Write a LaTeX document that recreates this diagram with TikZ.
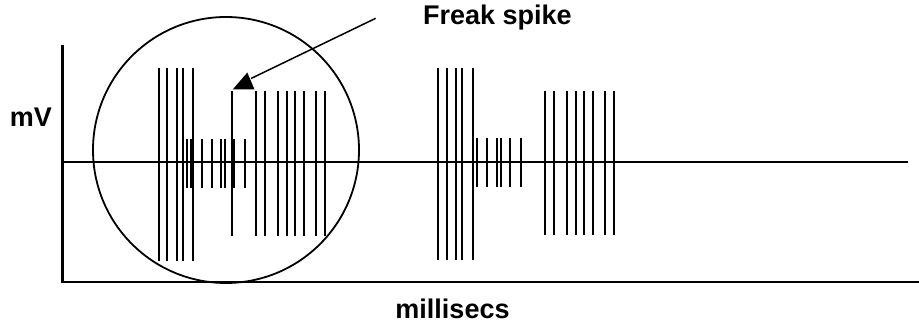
\documentclass[tikz,border=0pt]{standalone}
\usepackage{fontspec}
\setmainfont{Liberation Sans}
\usetikzlibrary{positioning}

\tikzset{
  spike/.style={line width=2.2pt},
  axisline/.style={line width=2.4pt},
  tag/.style={font=\fontsize{27}{30}\selectfont\bfseries, inner sep=0pt}
}

\begin{document}
\begin{tikzpicture}[x=1pt,y=-1pt]
  \useasboundingbox (0,0) rectangle (919,323);
  % axes and baseline
  \coordinate (origin) at (62.5,282);
  \coordinate (ytop) at (62.5,45);
  \coordinate (xend) at (919,282);
  \coordinate (bstart) at (62.5,162);
  \coordinate (bend) at (908,162);
  \draw[axisline] (ytop) -- (origin) -- (xend);
  \draw[line width=2.1pt] (bstart) -- (bend);
  % circle round the first burst
  \draw[line width=1.8pt] (226,150) circle (133);
  % first burst
  \foreach \x in {159,167.3,176.7,183.3,193.3}
    \draw[spike] (\x,68) -- (\x,261);
  \foreach \x in {187.3,190.7,201.7,212.3,220.7,224.7,233.8,245}
    \draw[spike] (\x,139) -- (\x,188);
  \foreach \x in {232,256,264.7,278,286.7,295.3,303.7,316,325.3}
    \draw[spike] (\x,91) -- (\x,236);
  % second burst
  \foreach \x in {438.3,446.7,455.7,462.3,473}
    \draw[spike] (\x,68) -- (\x,260);
  \foreach \x in {477.3,486.7,497,501.3,510,521.3}
    \draw[spike] (\x,138.5) -- (\x,187.5);
  \foreach \x in {545.3,554.3,567,575.7,584,593,604.7,614.3}
    \draw[spike] (\x,91) -- (\x,235);
  % labels
  \node[tag] (mv) at (31,117) {mV};
  \node[tag] (freak) at (497.5,18) {Freak spike};
  \node[tag] (time) at (452.5,309) {millisecs};
  % pointer to the freak spike
  \coordinate (arrowstart) at (375.7,18.3);
  \coordinate (arrowtip) at (251,78.5);
  \draw[line width=1.5pt] (arrowstart) -- (arrowtip);
  \fill (232.7,89.5) -- (254.5,89.5) -- (247.3,72.5) -- cycle;
\end{tikzpicture}
\end{document}
